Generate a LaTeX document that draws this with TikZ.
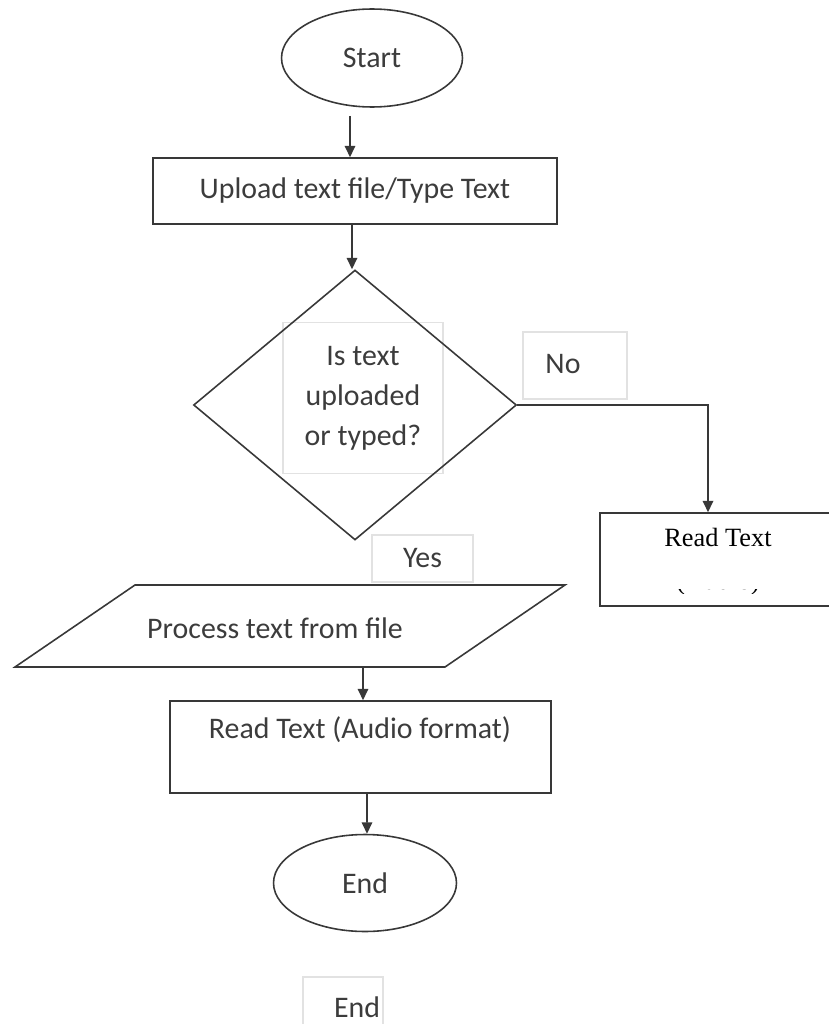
\documentclass[tikz,border=0pt]{standalone}
\usepackage{fontspec}
\setmainfont{Carlito}
\newfontfamily\serifrm{Liberation Serif}
\usetikzlibrary{arrows.meta,positioning,calc,shapes.geometric}
\definecolor{LineGray}{HTML}{383838}
\definecolor{TextGray}{HTML}{3C3C3C}
\definecolor{FrameGray}{HTML}{E2E2E2}

\begin{document}
\begin{tikzpicture}[x=0.02cm,y=-0.02cm,>={Triangle[length=6.5pt,width=6pt]},
  every node/.style={font=\fontsize{17}{22.7}\selectfont,text=TextGray},
  line/.style={draw=LineGray,line width=0.9pt},
  term/.style={line,ellipse,minimum width=3.62cm,minimum height=1.96cm,inner sep=0pt},
  procbox/.style={line,rectangle,inner sep=0pt},
  frame/.style={draw=FrameGray,line width=0.6pt,rectangle,inner sep=0pt},
  serifnote/.style={font=\serifrm\fontsize{15}{18}\selectfont,text=black},
  flow/.style={->,draw=LineGray,line width=0.9pt}]
  \useasboundingbox (0,0) rectangle (828,1024);

  % start and input
  \node[term] (start) at (372,58) {Start};
  \node[procbox,minimum width=8.08cm,minimum height=1.32cm] (upload) at (355,191) {Upload text file/Type Text};

  % decision
  \node[frame,minimum width=3.2cm,minimum height=3.02cm,align=center] (declbl) at (363,398) {Is text\\uploaded\\or typed?};
  \node[line,diamond,minimum width=6.46cm,minimum height=5.4cm,inner sep=0pt] (dec) at (355,405) {};
  \node[frame,minimum width=2.08cm,minimum height=1.34cm] (nobox) at (575,365.5) {};
  \node (no) at (563,364) {No};
  \node[frame,minimum width=2.02cm,minimum height=0.94cm] (yes) at (422.5,558.5) {Yes};

  % no branch
  \node[procbox,minimum width=4.8cm,minimum height=1.86cm] (rdbox) at (720,559.5) {};
  \node[serifnote] (rdtext) at (718,537) {Read Text};
  \begin{scope}
    \clip (600,589) rectangle (828,593);
    \node[serifnote] (rdaudio) at (718,583) {(Audio)};
  \end{scope}

  % yes branch
  \draw[line] (135,585) -- (565,585) -- (445,667) -- (15,667) -- cycle;
  \coordinate (procbot) at (363,667);
  \node (proc) at (275,628) {Process text from file};
  \node[procbox,minimum width=7.62cm,minimum height=1.84cm] (audio) at (360.5,747) {};
  \node (audiolbl) at (360,730) {Read Text (Audio format)};
  \node[term,minimum width=3.66cm,minimum height=1.94cm] (stop) at (365,883) {End};
  \node[frame,minimum width=1.6cm,minimum height=1.14cm] (endbox) at (343,1005.5) {};
  \node (endlbl) at (357,1007) {End};

  % connectors
  \draw[flow] ($(start.south)+(-22,8)$) -- ($(upload.north)+(-5,0)$);
  \draw[flow] ($(upload.south)+(-3,0)$) -- ($(dec.north)+(-3,0)$);
  \draw[flow] (dec.east) -| ($(rdbox.north)+(-12,0)$);
  \draw[flow] (procbot) -- ($(audio.north)+(2.5,0)$);
  \draw[flow] ($(audio.south)+(6.5,0)$) -- ($(stop.north)+(2,0)$);
\end{tikzpicture}
\end{document}
